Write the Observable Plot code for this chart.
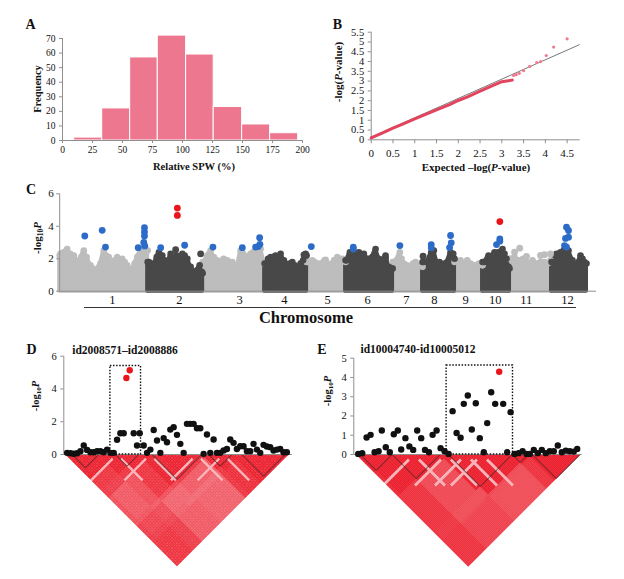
<!DOCTYPE html>
<html><head><meta charset="utf-8">
<script src="https://cdn.jsdelivr.net/npm/d3@7"></script>
<script src="https://cdn.jsdelivr.net/npm/@observablehq/plot@0.6"></script>
<style>
body{margin:0;background:#fff;}
#fig{position:relative;width:624px;height:579px;overflow:hidden;background:#fff;font-family:"Liberation Serif","Times New Roman",serif;color:#111;}
.t{position:absolute;transform:translate(-50%,-50%);white-space:nowrap;line-height:1;}
.v{position:absolute;transform:translate(-50%,-50%) rotate(-90deg);white-space:nowrap;line-height:1;}
.b{font-weight:bold;}
sub{font-size:0.68em;vertical-align:-0.3em;line-height:0;}
</style></head>
<body>
<div id="fig">
  <div class="t b" style="left:30.5px;top:25px;font-size:14px">A</div>
  <div class="t b" style="left:337.5px;top:25px;font-size:14px">B</div>
  <div class="t b" style="left:31px;top:190px;font-size:14px">C</div>
  <div class="t b" style="left:31.5px;top:350px;font-size:14px">D</div>
  <div class="t b" style="left:322px;top:350px;font-size:14px">E</div>

  <div class="v b" style="left:37.5px;top:89px;font-size:10.5px">Frequency</div>
  <div class="t b" style="left:194px;top:167px;font-size:10.5px">Relative SPW (%)</div>

  <div class="v b" style="left:338px;top:72px;font-size:11px">-log(<i>P</i>-value)</div>
  <div class="t b" style="left:476px;top:167px;font-size:11px">Expected –log(<i>P</i>-value)</div>

  <div class="v b" style="left:37px;top:238px;font-size:11px">-log<sub>10</sub><i>P</i></div>
  <div style="position:absolute;left:84px;top:307px;width:492px;border-top:1px solid #333"></div>
  <div class="t b" style="left:306px;top:318px;font-size:16.5px">Chromosome</div>

  <div class="t b" style="left:125px;top:351px;font-size:11.5px">id2008571–id2008886</div>
  <div class="v b" style="left:36px;top:396px;font-size:10.5px">-log<sub>10</sub><i>P</i></div>

  <div class="t b" style="left:418px;top:350px;font-size:11.5px">id10004740-id10005012</div>
  <div class="v b" style="left:327.5px;top:391px;font-size:10.5px">-log<sub>10</sub><i>P</i></div>
</div>
<script>
// ================= DATA =================
// Panel A: histogram of relative SPW
const spwBinStart = [9.7, 33.1, 56.4, 79.4, 103.0, 126.0, 149.7, 173.0];
const spwBinEnd   = [33.1, 56.4, 79.4, 103.0, 126.0, 149.7, 173.0, 196.4];
const spwFrequency = [2, 22, 57, 72, 59, 23, 11, 5];
const spwTicks = [0, 25, 50, 75, 100, 125, 150, 175, 200];
const freqTicks = [0, 10, 20, 30, 40, 50, 60, 70];

// Panel B: QQ plot
const qqExpected = [0, 0.25, 0.5, 0.75, 1.0, 1.25, 1.5, 1.8, 2.0, 2.2, 2.5, 2.8, 3.0, 3.15, 3.24];
const qqObserved = [0.1, 0.34, 0.6, 0.83, 1.07, 1.3, 1.53, 1.8, 2.01, 2.18, 2.49, 2.78, 2.97, 3.02, 3.05];
const qqTailExpected = [3.27, 3.33, 3.4, 3.5, 3.64, 3.8, 3.89, 4.02, 4.19, 4.5];
const qqTailObserved = [3.29, 3.33, 3.4, 3.54, 3.75, 3.95, 4.0, 4.31, 4.74, 5.16];
const qqRefX = [0, 4.78];
const qqRefY = [0.14, 4.86];
const qqXTicks = [0, 0.5, 1, 1.5, 2, 2.5, 3, 3.5, 4, 4.5];
const qqYTicks = [0, 0.5, 1, 1.5, 2, 2.5, 3, 3.5, 4, 4.5, 5, 5.5];

// Panel C: Manhattan plot (upper envelope of the dense SNP cloud per chromosome + outstanding SNPs)
const chrNames = ["1","2","3","4","5","6","7","8","9","10","11","12"];
const chrWidths = [88, 55, 62, 42, 39, 47, 30, 32, 28, 27, 42, 35];
const chrLabelPos = [52.8, 119.6, 180, 224.8, 268, 308, 346.8, 374.8, 406, 435.6, 466.8, 508];
const chr1Env  = [[0,2.2],[0.8,2.3],[4,2.4],[7.5,2.6],[10.5,2.3],[14.1,2.2],[19.1,1.8],[21.5,2.1],[24.1,2.5],[27,2.1],[30.8,1.6],[33,1.4],[36.5,1.3],[40.8,1.7],[44.1,2.5],[46.5,2.2],[49.1,2.1],[52.5,1.6],[55,1.9],[57.5,2.1],[60,1.9],[62.5,2.0],[65,1.8],[67.5,1.6],[72.5,1.3],[75,1.7],[77.5,2.1],[80.8,2.5],[83,2.6],[85.8,2.6],[88,2.5]];
const chr2Env  = [[0,1.8],[1.3,1.8],[4,1.7],[6.3,1.6],[9,2.1],[11.3,2.4],[14.7,2.2],[17,1.9],[19.7,1.6],[23,2.3],[26.3,2.0],[29,2.2],[31.3,2.0],[34.7,2.3],[37,2.2],[39.7,2.0],[43,1.5],[46.3,1.2],[49.7,1.3],[52,1.6],[54,1.2],[55,1.1]];
const chr3Env  = [[0,1.8],[1.3,1.8],[4.7,2.2],[8,2.5],[11.3,2.1],[14.5,1.9],[18,1.8],[21,2.0],[24.7,1.9],[29.7,1.8],[32,1.6],[34.7,1.5],[38,2.5],[40.5,2.3],[43,2.1],[48,2.3],[50.5,2.4],[53,2.6],[58,2.6],[61.3,1.8],[62,1.7]];
const chr4Env  = [[0,1.7],[1,1.7],[3.5,2.0],[6,2.1],[11,2.2],[13.5,2.1],[16,2.3],[19.3,1.9],[22.7,1.6],[25,1.7],[27.7,1.8],[30,1.6],[32.7,1.4],[36,1.7],[38.5,1.9],[41,2.3],[42,2.2]];
const chr5Env  = [[0,1.8],[0.7,1.8],[5.7,1.9],[8,1.8],[10.7,1.7],[14,1.7],[18,1.9],[21,1.7],[24,1.6],[27.5,1.9],[30.7,2.1],[33,2.0],[35.7,2.0],[39,1.8]];
const chr6Env  = [[0,1.9],[1,1.9],[4.3,2.4],[8.3,2.3],[10.5,2.2],[13.3,2.4],[15.5,2.2],[18.3,2.3],[21.7,2.0],[24,2.0],[26.7,2.1],[30,2.6],[33.3,2.0],[36.5,1.9],[40,2.2],[43.3,1.5],[46.7,1.4],[47,1.4]];
const chr7Env  = [[0,1.8],[1.3,1.8],[4,1.9],[7.3,2.4],[9,2.0],[11.3,1.7],[14.5,1.6],[18,1.5],[20.5,1.7],[23,1.8],[25.5,1.6],[28,1.6],[30,1.5]];
const chr8Env  = [[0,1.8],[0.7,1.8],[4.7,1.8],[8.7,2.4],[11.3,2.5],[14.7,1.7],[17,1.8],[19.7,1.6],[22,1.7],[24.7,1.8],[28,2.4],[30.7,2.3],[32,2.0]];
const chr9Env  = [[0,1.8],[2.7,1.8],[6,1.9],[9.5,1.7],[12.7,1.9],[16,1.7],[19.3,1.6],[24.3,1.7],[27.7,1.6],[28,1.6]];
const chr10Env = [[0,1.8],[2,1.8],[6,2.2],[9,2.1],[12,2.4],[16,2.4],[20,2.6],[22,2.3],[24,2.0],[26,1.5],[27,1.4]];
const chr11Env = [[0,2.0],[1,2.0],[5,2.1],[7.5,1.9],[10.2,1.9],[13.5,2.0],[17,1.8],[20,1.7],[23,1.9],[27,1.7],[31,1.8],[35,1.8],[38,1.7],[41,1.9],[42,1.8]];
const chr12Env = [[0,1.8],[1,1.8],[5,2.3],[9,2.4],[13,2.6],[17,2.5],[21,1.9],[25,1.5],[27,1.8],[29,2.2],[31,2.0],[33,1.8],[35,1.7]];
// isolated background SNPs: [chromosome, position, -log10P]
const looseSnps = [[2,28,2.56],[2,53,2.3],[4,39.3,2.24],[5,19,1.93],[6,40,2.03],[8,0.5,2.16],
  [11,5,2.4],[11,10.2,2.65],[11,17,2.15],[11,31,2.2],[11,35,2.25],[11,41,2.3]];
// suggestive SNPs (blue)
const suggestiveSnps = [[1,25.1,3.4],[1,42.5,3.75],[1,45.8,2.72],[1,78.5,2.68],[1,84.8,3.91],[1,84.8,3.65],[1,84.8,3.4],[1,84.1,3.0],[1,85.1,2.79],
  [2,13,2.68],[2,37,2.83],
  [3,10.3,2.72],[3,39.7,2.68],[3,53,2.72],[3,57,3.3],[3,57.3,2.89],[3,55.5,2.75],
  [5,4.7,2.75],[6,7.7,2.71],[6,7.7,2.6],[7,7.3,2.81],
  [8,8.7,2.87],[8,8.7,2.67],[8,28,3.43],[8,28.7,2.98],[8,27,2.69],
  [10,14,2.87],[10,17.3,3.22],[10,17.3,3.08],
  [12,15,3.94],[12,17,3.74],[12,17,3.33],[12,14,3.25],[12,13,2.81],[12,15,2.71]];
// significant SNPs (red)
const significantSnps = [[2,29.7,5.12],[2,29.7,4.67],[10,17.3,4.29]];
const manhattanYTicks = [0, 2, 4, 6];

// Panel D: regional plot and LD blocks
const dSnp = [0,1,2,3,4,5,6,7,8,9,10,11,12,13,14,15,16,17,17.8,18.8,20,21,21.8,23,24,25,26,27,28,29,30,31,32,33,34,35,36,37,38,39,40,41,42,43,44,45,46,47,48,49,50,51,52,53,54,55,56,57,58,59,60,61,62,63,64,65,66];
const dLogP = [0.1,0.08,0.05,0.08,0.2,0.55,0.28,0.14,0.14,0.2,0.2,0.14,0.3,0.1,0.1,0.9,1.3,1.3,4.67,5.14,1.3,0.55,1.3,0.55,0.1,0.3,1.5,0.85,0.1,1.0,0.75,1.52,1.67,1.2,0.65,0.1,1.87,1.87,1.87,1.6,1.6,0.04,1.22,0.1,0.92,0.1,0.1,0.24,0.34,0.92,0.71,0.34,0.5,0.5,0.2,0.2,0.65,0.3,0.1,0.59,0.49,0.45,0.24,0.3,0.34,0.14,0.14];
const dLeadSnps = [17.8, 18.8];
const dBox = {x1: 13, x2: 22.2, top: 5.4};
const dYTicks = [0, 2, 4, 6];
const dSnpCount = 67;
const dBlocks = [[2,9],[15,21],[26,40],[43,49],[53,65]];
const dLdGroupStart = [0, 2, 10, 15, 22, 26, 41, 43, 50, 53];
const dLdGroupValue = [
  [1, 1, 1, .92, .9, .8, .8, .88, .9, .92],
  [0, 1, 1, .92, .88, .75, .78, .85, .88, .92],
  [0, 0, 1, 1, .92, .8, .75, .82, .85, .88],
  [0, 0, 0, 1, 1, .92, .8, .7, .72, .75],
  [0, 0, 0, 0, 1, 1, .85, .7, .68, .75],
  [0, 0, 0, 0, 0, 1, .92, .75, .68, .72],
  [0, 0, 0, 0, 0, 0, 1, 1, .92, .92],
  [0, 0, 0, 0, 0, 0, 0, 1, 1, .95],
  [0, 0, 0, 0, 0, 0, 0, 0, 1, 1],
  [0, 0, 0, 0, 0, 0, 0, 0, 0, 1]];
const dLowLdSnps = [15, 25, 39, 47];

// Panel E
const eSnp = [0,1,2.1,3.1,4.1,5.1,5.9,6.9,7.9,8.9,9.9,10.75,11.8,12.8,13.75,14.75,15.75,16.7,17.7,18.6,19.6,20.6,21.6,22.6,23.6,24.6,25.6,26.4,27.4,28.4,29.4,30.4,31.4,32.25,33.25,34.25,35.25,36.25,37.25,38.1,39.1,40.1,41.1,42.1,42.9,43.9,44.9,45.9,46.9,47.9,48.9,49.9,50.9,51.9,52.9,53.9,54.75];
const eLogP = [0.03,0.07,0.88,1.02,0.12,0.17,1.25,0.38,0.12,1.05,1.25,0.26,0.85,0.42,0.24,1.25,0.85,0.24,0.12,1.02,1.25,0.33,0.17,0.03,2.25,1.12,0.87,2.63,3.06,1.3,2.66,0.85,0.12,1.63,3.23,2.63,4.3,2.63,0.12,2.2,0.03,0.07,0.17,0.03,0.03,0.24,0.07,0.24,0.07,0.17,0.17,0.47,0.12,0.2,0.17,0.15,0.29];
const eLeadSnps = [35.25];
const eBox = {x1: 22.1, x2: 38.7, top: 4.62};
const eYTicks = [0, 1, 2, 3, 4, 5];
const eSnpCount = 56;
const eBlocks = [[1,8],[9,20],[23,38],[39,42],[44,55]];
const eLdGroupStart = [0, 1, 9, 21, 23, 39, 43, 44];
const eLdGroupValue = [
  [1, 1, .95, .92, .92, .92, .92, .92],
  [0, 1, 1, .92, .92, .9, .92, .92],
  [0, 0, 1, 1, .82, .8, .82, .85],
  [0, 0, 0, 1, 1, .8, .85, .85],
  [0, 0, 0, 0, 1, 1, .82, .8],
  [0, 0, 0, 0, 0, 1, 1, .92],
  [0, 0, 0, 0, 0, 0, 1, 1],
  [0, 0, 0, 0, 0, 0, 0, 1]];
const eLowLdSnps = [14, 22, 27, 31];

// ================= STYLE =================
const FONT = '"Liberation Serif","Times New Roman",serif';
const AX = "#8f8f8f";
const PINK = "#ee7790";
const LIGHT = "#bdbdbd", DARK = "#484848", BLUE = "#2c6bc8", RED = "#e8161b";
const LDRED = "#ec2331";
const fig = document.getElementById("fig");
const st = (extra) => Object.assign({fontFamily: FONT, fontSize: "10px", background: "transparent", color: "#111", overflow: "visible"}, extra || {});
function place(node, left, top) {
  node.style.position = "absolute";
  node.style.left = left + "px";
  node.style.top = top + "px";
  fig.appendChild(node);
}
const fmt = d => String(d);

// ================= PANEL A =================
const histRows = spwFrequency.map((f, i) => ({x1: spwBinStart[i], x2: spwBinEnd[i], f}));
place(Plot.plot({
  width: 320, height: 180, marginLeft: 62, marginRight: 18, marginTop: 38, marginBottom: 40,
  x: {domain: [spwTicks[0], spwTicks[spwTicks.length - 1]]},
  y: {domain: [freqTicks[0], freqTicks[freqTicks.length - 1]]},
  style: st(),
  marks: [
    Plot.rectY(histRows, {x1: "x1", x2: "x2", y: "f", fill: PINK, stroke: "#fff", strokeWidth: 1}),
    Plot.ruleY([freqTicks[0]], {stroke: AX}),
    Plot.ruleX([spwTicks[0]], {stroke: AX}),
    Plot.axisX({ticks: spwTicks, tickSize: 3, tickPadding: 3, stroke: AX, label: null, fontSize: 9.5, tickFormat: fmt}),
    Plot.axisY({ticks: freqTicks, tickSize: 3, tickPadding: 4, stroke: AX, label: null, fontSize: 9.5, tickFormat: fmt})
  ]
}), 0, 0);

// ================= PANEL B =================
const qqRows = qqExpected.map((e, i) => ({e, o: qqObserved[i]}));
const qqTail = qqTailExpected.map((e, i) => ({e, o: qqTailObserved[i]}));
const qqRef = qqRefX.map((e, i) => ({e, o: qqRefY[i]}));
place(Plot.plot({
  width: 304, height: 180, marginLeft: 50.7, marginRight: 44.3, marginTop: 31.7, marginBottom: 40.7,
  x: {domain: [0, 4.8]}, y: {domain: [qqYTicks[0], qqYTicks[qqYTicks.length - 1]]},
  style: st(),
  marks: [
    Plot.ruleY([0], {stroke: AX}),
    Plot.ruleX([0], {stroke: AX}),
    Plot.line(qqRef, {x: "e", y: "o", stroke: "#555", strokeWidth: 0.8}),
    Plot.line(qqRows, {x: "e", y: "o", stroke: "#e2445e", strokeWidth: 3, strokeLinecap: "round"}),
    Plot.dot(qqTail, {x: "e", y: "o", r: 1.6, fill: "#f07a90"}),
    Plot.axisX({ticks: qqXTicks, tickSize: 4, tickPadding: 5, stroke: AX, label: null, fontSize: 11, tickFormat: fmt}),
    Plot.axisY({ticks: qqYTicks, tickSize: 3, tickPadding: 4, stroke: AX, label: null, fontSize: 10.5, tickFormat: fmt})
  ]
}), 320, 0);

// ================= PANEL C =================
const chrEnvs = [chr1Env, chr2Env, chr3Env, chr4Env, chr5Env, chr6Env, chr7Env, chr8Env, chr9Env, chr10Env, chr11Env, chr12Env];
const chrStart = d3.cumsum([0, ...chrWidths]);
const chrTotal = chrStart[chrWidths.length];
const envLight = [], envDark = [];
chrEnvs.forEach((env, c) => {
  env.forEach(([p, v]) => (c % 2 === 0 ? envLight : envDark).push({chr: c, gx: chrStart[c] + p, v}));
});
const toRow = ([c, p, v]) => ({chr: c, gx: chrStart[c - 1] + p, v});
const looseRows = looseSnps.map(toRow);
const sugRows = suggestiveSnps.map(toRow);
const sigRows = significantSnps.map(toRow);
const cXDomain = [0, chrTotal + 10];
place(Plot.plot({
  width: 624, height: 150, marginLeft: 59.2, marginRight: 28, marginTop: 8.3, marginBottom: 44.3,
  x: {domain: cXDomain}, y: {domain: [manhattanYTicks[0], manhattanYTicks[manhattanYTicks.length - 1]]},
  style: st(),
  marks: [
    Plot.areaY(envLight, {x: "gx", y1: 0, y2: "v", z: "chr", fill: LIGHT, stroke: LIGHT, strokeWidth: 4, strokeLinejoin: "round"}),
    Plot.areaY(envDark, {x: "gx", y1: 0, y2: "v", z: "chr", fill: DARK, stroke: DARK, strokeWidth: 4, strokeLinejoin: "round"}),
    Plot.dot(envLight, {x: "gx", y: "v", r: 3.3, fill: LIGHT}),
    Plot.dot(envDark, {x: "gx", y: "v", r: 3.3, fill: DARK}),
    Plot.dot(looseRows, {x: "gx", y: "v", r: 3.4, fill: d => (d.chr % 2 === 1 ? LIGHT : DARK)}),
    Plot.dot(sugRows, {x: "gx", y: "v", r: 3.4, fill: BLUE}),
    Plot.dot(sigRows, {x: "gx", y: "v", r: 3.4, fill: RED}),
    Plot.ruleY([0], {stroke: AX}),
    Plot.ruleX([cXDomain[0]], {stroke: AX}),
    Plot.axisY({ticks: manhattanYTicks, tickSize: 3, tickPadding: 3, stroke: AX, label: null, fontSize: 11, tickFormat: fmt}),
    Plot.axisX({ticks: chrLabelPos, tickSize: 0, tickPadding: 4, label: null, fontSize: 12.5, tickFormat: (d) => chrNames[chrLabelPos.indexOf(d)]})
  ]
}), 0, 185);

// ================= LD helpers =================
function ldCells(n, starts, M, low) {
  const g = i => d3.bisectRight(starts, i) - 1;
  const out = [];
  for (let i = 0; i < n; i++) for (let j = i; j < n; j++) {
    let v = M[g(i)][g(j)];
    const gap = j - i;
    if (gap > 2 && gap < 16 && (low.includes(i) || low.includes(j))) v = Math.min(v, 0.35);
    out.push({x: (i + j) / 2, y: gap / 2, v});
  }
  return out;
}
function blockTris(blocks) {
  const out = [];
  blocks.forEach(([a, b], k) => {
    out.push({b: k, x: a - 0.5, y: 0});
    out.push({b: k, x: (a + b) / 2, y: (b - a + 1) / 2});
    out.push({b: k, x: b + 0.5, y: 0});
  });
  return out;
}
function ldPlot(n, starts, M, low, blocks, xDomain, mL, mR, depth, r) {
  return Plot.plot({
    width: 312, height: 125, marginLeft: mL, marginRight: mR, marginTop: 0, marginBottom: 0,
    x: {domain: xDomain, axis: null}, y: {domain: [0, depth], reverse: true, axis: null},
    color: {type: "linear", domain: [0, 1], range: ["#ffffff", LDRED]},
    style: st({overflow: "hidden"}),
    marks: [
      Plot.dot(ldCells(n, starts, M, low), {x: "x", y: "y", fill: "v", symbol: "square", rotate: 45, r}),
      Plot.line(blockTris(blocks), {x: "x", y: "y", z: "b", stroke: "#2a2a2a", strokeWidth: 0.8})
    ]
  });
}
function regionPlot(snps, logp, lead, box, yTicks, xDomain, mL, mR, mT) {
  const rows = snps.map((s, i) => ({s, p: logp[i]}));
  return Plot.plot({
    width: 312, height: 120, marginLeft: mL, marginRight: mR, marginTop: mT, marginBottom: 6,
    x: {domain: xDomain}, y: {domain: [yTicks[0], yTicks[yTicks.length - 1]]},
    style: st(),
    marks: [
      Plot.ruleY([0], {stroke: AX}),
      Plot.ruleX([xDomain[0]], {stroke: AX}),
      Plot.rect([box], {x1: "x1", x2: "x2", y1: 0, y2: "top", fill: "none", stroke: "#111", strokeWidth: 1.4, strokeDasharray: "1.5,1.6"}),
      Plot.dot(rows.filter(d => !lead.includes(d.s)), {x: "s", y: "p", r: 3.2, fill: "#111"}),
      Plot.dot(rows.filter(d => lead.includes(d.s)), {x: "s", y: "p", r: 3.2, fill: RED}),
      Plot.axisY({ticks: yTicks, tickSize: 3, tickPadding: 4, stroke: AX, label: null, fontSize: 10.5, tickFormat: fmt}),
      Plot.axisX({ticks: [], label: null})
    ]
  });
}

// ================= PANEL D =================
const dXDomain = [-1, 67.7];
place(ldPlot(dSnpCount, dLdGroupStart, dLdGroupValue, dLowLdSnps, dBlocks, dXDomain, 63.3, 20, 37.5, 1.45), 0, 454);
place(regionPlot(dSnp, dLogP, dLeadSnps, dBox, dYTicks, dXDomain, 63.3, 20, 15.7), 0, 340);

// ================= PANEL E =================
const eXDomain = [-1.1, 56];
place(ldPlot(eSnpCount, eLdGroupStart, eLdGroupValue, eLowLdSnps, eBlocks, eXDomain, 41.3, 42.3, 31.25, 1.75), 312, 454);
place(regionPlot(eSnp, eLogP, eLeadSnps, eBox, eYTicks, eXDomain, 41.3, 42.3, 17.7), 312, 340);
</script>
</body></html>
